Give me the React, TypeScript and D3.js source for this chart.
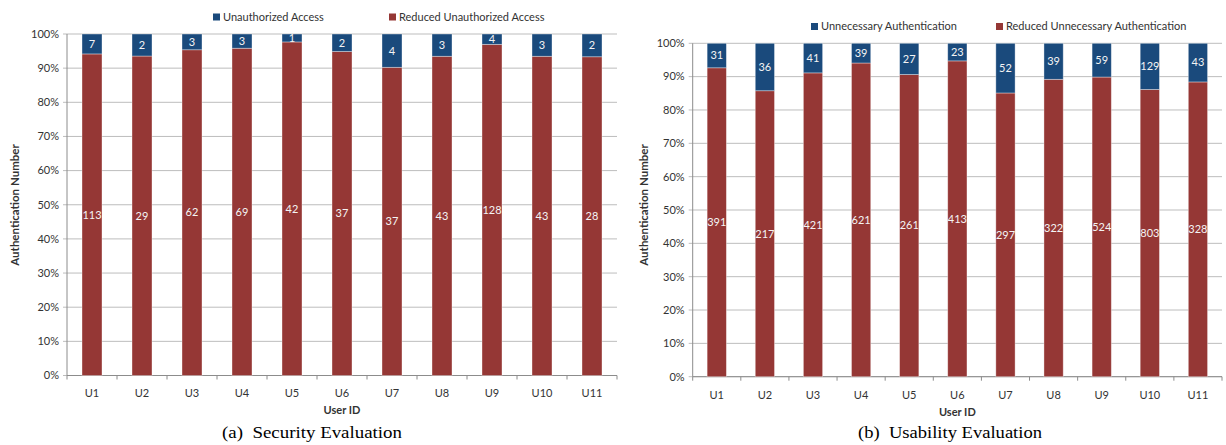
import React from 'react';
import * as d3 from 'd3';

const users = ['U1', 'U2', 'U3', 'U4', 'U5', 'U6', 'U7', 'U8', 'U9', 'U10', 'U11'];
const yTicks = [0, 0.1, 0.2, 0.3, 0.4, 0.5, 0.6, 0.7, 0.8, 0.9, 1];

// (a) security
const unauthorized = [7, 2, 3, 3, 1, 2, 4, 3, 4, 3, 2];
const reducedUnauthorized = [113, 29, 62, 69, 42, 37, 37, 43, 128, 43, 28];

// (b) usability
const unnecessary = [31, 36, 41, 39, 27, 23, 52, 39, 59, 129, 43];
const reducedUnnecessary = [391, 217, 421, 621, 261, 413, 297, 322, 524, 803, 328];

const BLUE = '#1a4a7c';
const RED = '#953735';
const FONT = 'Lato, "Open Sans", sans-serif';

interface PanelProps {
  left: number;
  right: number;
  top: number;
  bottom: number;
  topSeries: number[];
  bottomSeries: number[];
  topName: string;
  bottomName: string;
  legendX: [number, number];
  legendY: number;
  titleX: number;
  titleY: number;
  caption: string;
  captionX: number;
  captionW: number;
}

const Panel: React.FC<PanelProps> = (p) => {
  const rows = users.map((u, i) => ({ user: u, bottom: p.bottomSeries[i], top: p.topSeries[i] }));
  const stacked = d3.stack<any>().keys(['bottom', 'top']).offset(d3.stackOffsetExpand)(rows);

  const x = d3.scaleBand().domain(users).range([p.left, p.right]).paddingInner(0.6).paddingOuter(0.3);
  const step = x.step();
  const y = d3.scaleLinear().domain([0, 1]).range([p.bottom, p.top]);
  const colors = [RED, BLUE];

  return (
    <g>
      {/* gridlines */}
      {yTicks.map((t) => (
        <line key={`g${t}`} x1={p.left - 4} x2={p.right} y1={y(t)} y2={y(t)} stroke="#bdbdbd" strokeWidth={1} />
      ))}
      <line x1={p.left} x2={p.left} y1={p.top} y2={p.bottom} stroke="#8c8c8c" />
      <line x1={p.left} x2={p.right} y1={p.bottom} y2={p.bottom} stroke="#8c8c8c" />
      {d3.range(users.length + 1).map((i) => (
        <line key={`xt${i}`} x1={p.left + i * step} x2={p.left + i * step} y1={p.bottom} y2={p.bottom + 4} stroke="#8c8c8c" />
      ))}
      {yTicks.map((t) => (
        <text key={`yl${t}`} x={p.left - 8} y={y(t)} dy="0.35em" textAnchor="end" fontSize={11} fill="#333" fontFamily={FONT}>
          {d3.format('.0%')(t)}
        </text>
      ))}

      {/* bars */}
      {stacked.map((s, si) => (
        <g key={s.key}>
          {s.map((d, i) => (
            <rect
              key={i}
              x={x(users[i])}
              width={x.bandwidth()}
              y={y(d[1])}
              height={y(d[0]) - y(d[1])}
              fill={colors[si]}
              stroke="rgba(255,255,255,0.45)"
              strokeWidth={0.8}
            />
          ))}
          {s.map((d, i) => (
            <text
              key={`l${i}`}
              x={(x(users[i]) as number) + x.bandwidth() / 2}
              y={y((d[0] + d[1]) / 2)}
              dy="0.35em"
              textAnchor="middle"
              fontSize={11}
              fill="#f4f4f4"
              fontFamily={FONT}
            >
              {si === 0 ? p.bottomSeries[i] : p.topSeries[i]}
            </text>
          ))}
        </g>
      ))}

      {/* x labels */}
      {users.map((u) => (
        <text key={u} x={(x(u) as number) + x.bandwidth() / 2} y={p.bottom + 18} dy="0.35em" textAnchor="middle" fontSize={11} fill="#333" fontFamily={FONT}>
          {u}
        </text>
      ))}
      <text x={(p.left + p.right) / 2} y={p.bottom + 35} dy="0.35em" textAnchor="middle" fontSize={11} fontWeight="bold" fill="#333" fontFamily={FONT}>
        User ID
      </text>
      <text
        transform={`translate(${p.titleX},${p.titleY}) rotate(-90)`}
        dy="0.35em"
        textAnchor="middle"
        fontSize={11.5}
        fontWeight="bold"
        fill="#333"
        fontFamily={FONT}
      >
        Authentication Number
      </text>

      {/* legend */}
      {[
        { name: p.topName, color: BLUE, lx: p.legendX[0] },
        { name: p.bottomName, color: RED, lx: p.legendX[1] },
      ].map((l) => (
        <g key={l.name}>
          <rect x={l.lx} y={p.legendY - 3.5} width={7} height={7} fill={l.color} />
          <text x={l.lx + 10} y={p.legendY} dy="0.35em" fontSize={11} fill="#333" fontFamily={FONT}>
            {l.name}
          </text>
        </g>
      ))}

      <text
        x={p.captionX}
        y={438}
        textAnchor="middle"
        fontSize={17}
        fill="#000"
        fontFamily='"Liberation Serif", "Times New Roman", serif'
        textLength={p.captionW}
        lengthAdjust="spacingAndGlyphs"
        style={{ whiteSpace: 'pre' }}
      >
        {p.caption}
      </text>
    </g>
  );
};

export default function App() {
  return (
    <svg width={1226} height={445} style={{ position: 'absolute', left: 0, top: 0, background: '#fff' }}>
      <Panel
        left={67}
        right={617}
        top={34}
        bottom={375.5}
        topSeries={unauthorized}
        bottomSeries={reducedUnauthorized}
        topName="Unauthorized Access"
        bottomName="Reduced Unauthorized Access"
        legendX={[213, 389]}
        legendY={17}
        titleX={15}
        titleY={205}
        caption="(a)  Security Evaluation"
        captionX={312}
        captionW={180}
      />
      <Panel
        left={692.7}
        right={1222}
        top={43.3}
        bottom={376.7}
        topSeries={unnecessary}
        bottomSeries={reducedUnnecessary}
        topName="Unnecessary Authentication"
        bottomName="Reduced Unnecessary Authentication"
        legendX={[811, 996]}
        legendY={26.5}
        titleX={644}
        titleY={205}
        caption="(b)  Usability Evaluation"
        captionX={950}
        captionW={184}
      />
    </svg>
  );
}
